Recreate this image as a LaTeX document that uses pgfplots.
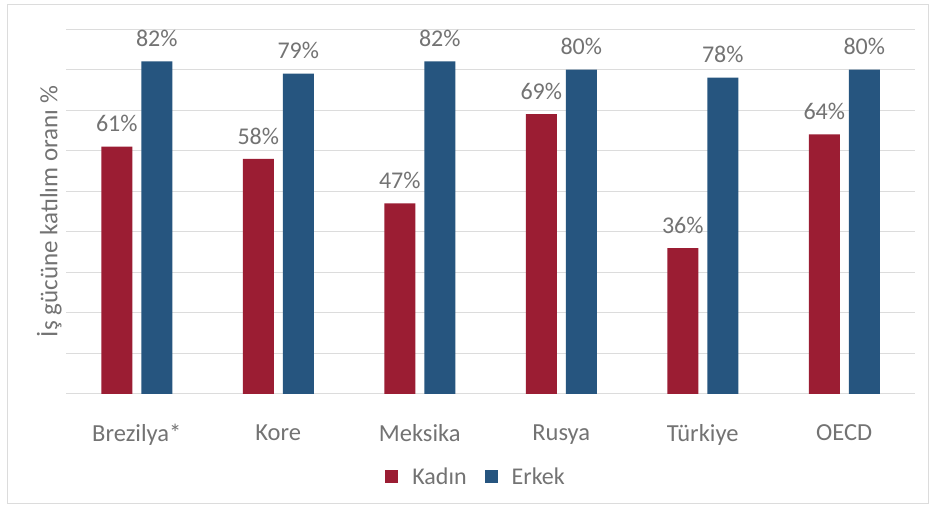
\documentclass[border=0pt]{standalone}
\usepackage{pgfplots}
\pgfplotsset{compat=1.18}
\usepackage{fontspec}
\setmainfont{Carlito}
\definecolor{kred}{HTML}{9B1D33}
\definecolor{eblue}{HTML}{26557F}
\definecolor{txtgray}{HTML}{737373}
\definecolor{gridgray}{HTML}{DCDCDC}
\begin{document}
\begin{tikzpicture}[x=1pt,y=1pt]
\fill[white] (0,0) rectangle (931,511);
\draw[gridgray,line width=1pt] (7,7) rectangle (928,506);
\begin{axis}[
  at={(66pt,117pt)}, anchor=south west,
  scale only axis, width=849pt, height=365pt,
  xmin=-0.5, xmax=5.5, ymin=0, ymax=90,
  ybar, bar width=31pt,
  xtick={0,1,2,3,4,5},
  xticklabels={Brezilya*,Kore,Meksika,Rusya,Türkiye,OECD},
  ytick={0,10,...,90}, yticklabels={},
  ymajorgrids, grid style={gridgray,line width=1pt},
  axis line style={draw=none},
  major tick length=0pt,
  xticklabel style={font=\fontsize{24.5}{28}\selectfont, text=txtgray, yshift=-27pt},
  ylabel={İş gücüne katılım oranı \%},
  ylabel style={font=\fontsize{25}{28}\selectfont, text=txtgray, at={(axis description cs:-0.0195,0.5)}, anchor=center},
  nodes near coords={\pgfmathprintnumber[assume math mode=true]{\pgfplotspointmeta}\%},
  nodes near coords style={font=\fontsize{24}{28}\selectfont, text=txtgray, anchor=south, yshift=11pt},
  legend style={at={(0.483,-0.227)}, anchor=center, draw=none, font=\fontsize{24}{28}\selectfont, text=txtgray, legend columns=2, column sep=12pt, /tikz/every even column/.append style={column sep=16pt}},
  legend image code/.code={\fill[#1] (0pt,-6pt) rectangle (13pt,7pt);},
]
\addplot[fill=kred, draw=none, bar shift=-20pt] coordinates {(0,61) (1,58) (2,47) (3,69) (4,36) (5,64)};
\addplot[fill=eblue, draw=none, bar shift=20pt] coordinates {(0,82) (1,79) (2,82) (3,80) (4,78) (5,80)};
\legend{Kadın,Erkek}
\end{axis}
\end{tikzpicture}
\end{document}
